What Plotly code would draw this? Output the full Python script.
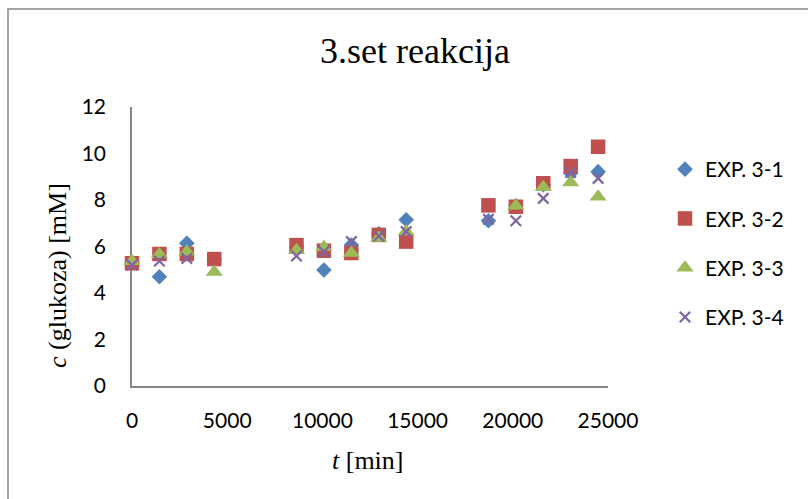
import plotly.graph_objects as go

# ---- data ----
t_min = [0, 1440, 2880, 4320, 8640, 10080, 11520, 12960, 14400, 18720, 20160, 21600, 23040, 24480]
exp_3_1 = [5.30, 4.70, 6.14, 5.45, 6.00, 4.99, 6.06, 6.55, 7.15, 7.11, 7.75, 8.65, 9.15, 9.22]
exp_3_2 = [5.28, 5.68, 5.68, 5.46, 6.06, 5.82, 5.72, 6.50, 6.21, 7.77, 7.71, 8.72, 9.46, 10.29]
exp_3_3 = [5.37, 5.67, 5.77, 4.90, 5.84, 5.97, 5.72, 6.37, 6.64, None, 7.75, 8.55, 8.75, 8.14]
exp_3_4 = [5.20, 5.38, 5.49, None, 5.59, 5.78, 6.21, 6.45, 6.64, 7.17, 7.11, 8.07, 9.18, 8.93]
series_names = ["EXP. 3-1", "EXP. 3-2", "EXP. 3-3", "EXP. 3-4"]
x_ticks = [0, 5000, 10000, 15000, 20000, 25000]
y_ticks = [0, 2, 4, 6, 8, 10, 12]

W, H = 808, 499
L, R, T, B = 132, 200, 107, 113
PW, PH = W - L - R, H - T - B
SERIF = "Liberation Serif, Times New Roman, DejaVu Serif, serif"
SANS = "Lato, Noto Sans, sans-serif"

def px(xp):
    return (xp - L) / PW

def py(yp):
    return (H - B - yp) / PH

styles = [
    dict(symbol="diamond", size=12, color="#4F81BD"),
    dict(symbol="square", size=14.5, color="#C0504D"),
    dict(symbol="triangle-up", size=15, color="#9BBB59"),
    dict(symbol="x-thin", size=10.5, color="#8064A2", line=dict(width=2.2, color="#8064A2")),
]
values = [exp_3_1, exp_3_2, exp_3_3, exp_3_4]

fig = go.Figure()
for name, vals, st in zip(series_names, values, styles):
    marker = dict(symbol=st["symbol"], size=st["size"], color=st["color"])
    if "line" in st:
        marker["line"] = st["line"]
    else:
        marker["line"] = dict(width=0)
    fig.add_trace(go.Scatter(
        x=t_min, y=vals, mode="markers", name=name, marker=marker,
        cliponaxis=False, legendgroup=name,
    ))

axis_common = dict(
    showgrid=False, zeroline=False, showline=True, linecolor="#868686", linewidth=1.5,
    ticks="", tickfont=dict(family=SANS, size=21, color="black"), layer="below traces",
)

fig.update_layout(
    width=W, height=H, autosize=False,
    margin=dict(l=L, r=R, t=T, b=B, pad=0),
    paper_bgcolor="white", plot_bgcolor="white",
    xaxis=dict(range=[0, 25000], tickvals=x_ticks, ticktext=[str(v) for v in x_ticks],
               ticklabelstandoff=15, **axis_common),
    yaxis=dict(range=[0, 12], tickvals=y_ticks, ticktext=[str(v) for v in y_ticks],
               ticklabelstandoff=20, **axis_common),
    legend=dict(x=px(665), y=py(149), xanchor="left", yanchor="top",
                font=dict(family=SANS, size=21, color="black"),
                tracegroupgap=19, bgcolor="rgba(0,0,0,0)"),
    showlegend=True,
)

fig.add_annotation(text="3.set reakcija", xref="paper", yref="paper",
                   x=px(415), y=py(51), xanchor="center", yanchor="middle",
                   showarrow=False, font=dict(family=SERIF, size=36, color="black"))
fig.add_annotation(text="<i>t</i> [min]", xref="paper", yref="paper",
                   x=px(368), y=py(460), xanchor="center", yanchor="middle",
                   showarrow=False, font=dict(family=SERIF, size=26, color="black"))
fig.add_annotation(text="<i>c</i> (glukoza) [mM]", xref="paper", yref="paper",
                   x=px(57), y=py(276), xanchor="center", yanchor="middle", textangle=-90,
                   showarrow=False, font=dict(family=SERIF, size=26, color="black"))

fig.add_shape(type="rect", xref="paper", yref="paper",
              x0=px(8), y0=py(520), x1=px(830), y1=py(9),
              line=dict(color="#868686", width=1.5), fillcolor="rgba(0,0,0,0)", layer="above")

fig.write_html("out.html", config={"displayModeBar": False},
               post_script="document.body.style.margin='0';document.body.style.overflow='hidden';")
